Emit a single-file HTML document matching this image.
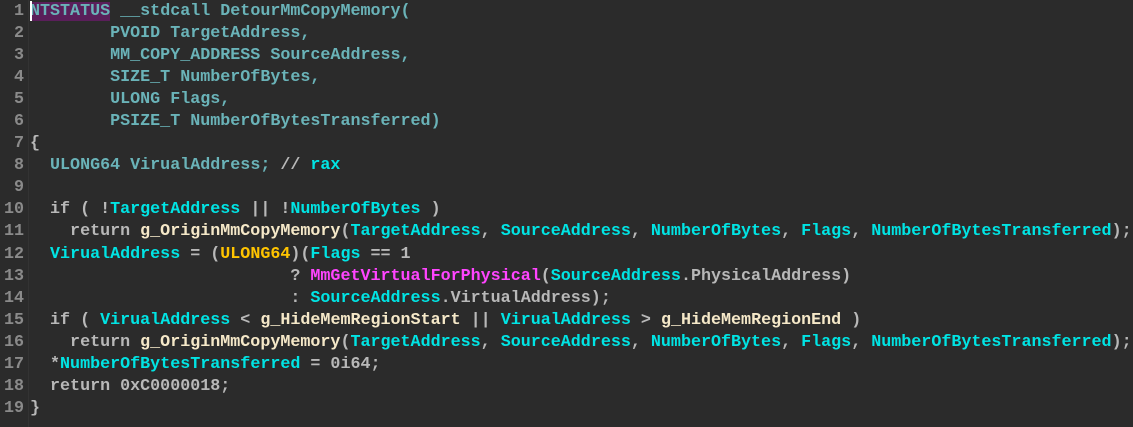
<!DOCTYPE html>
<html><head><meta charset="utf-8"><style>
html,body{margin:0;padding:0;background:#2b2b2b;width:1133px;height:427px;overflow:hidden}
.g{position:absolute;left:0;top:1px;width:24px;text-align:right;color:#8a8a8a;font:bold 16.7px/22.05px "Liberation Mono",monospace}
.sep{position:absolute;left:28px;top:0;width:1px;height:427px;background:#333}
.c{position:absolute;left:30px;top:1px;color:#b8b8b8;font:bold 16.7px/22.05px "Liberation Mono",monospace;white-space:pre}
.t{color:#6ab3b8}.i{color:#00e4e4}.y{color:#ffc400}.m{color:#ff44ff}.b{color:#f5e8c8}
.h{background:#5a1f5a}
.cur{position:absolute;left:30px;top:1px;width:2px;height:20px;background:#fff}
</style></head><body>
<div class="g">1<br>2<br>3<br>4<br>5<br>6<br>7<br>8<br>9<br>10<br>11<br>12<br>13<br>14<br>15<br>16<br>17<br>18<br>19</div>
<div class="sep"></div>
<div class="c"><span class="t"><span class="h">NTSTATUS</span> __stdcall DetourMmCopyMemory(</span>
<span class="t">        PVOID TargetAddress,</span>
<span class="t">        MM_COPY_ADDRESS SourceAddress,</span>
<span class="t">        SIZE_T NumberOfBytes,</span>
<span class="t">        ULONG Flags,</span>
<span class="t">        PSIZE_T NumberOfBytesTransferred)</span>
{
  <span class="t">ULONG64 VirualAddress;</span> // <span class="i">rax</span>

  if ( !<span class="i">TargetAddress</span> || !<span class="i">NumberOfBytes</span> )
    return <span class="b">g_OriginMmCopyMemory</span>(<span class="i">TargetAddress</span>, <span class="i">SourceAddress</span>, <span class="i">NumberOfBytes</span>, <span class="i">Flags</span>, <span class="i">NumberOfBytesTransferred</span>);
  <span class="i">VirualAddress</span> = (<span class="y">ULONG64</span>)(<span class="i">Flags</span> == 1
                          ? <span class="m">MmGetVirtualForPhysical</span>(<span class="i">SourceAddress</span>.PhysicalAddress)
                          : <span class="i">SourceAddress</span>.VirtualAddress);
  if ( <span class="i">VirualAddress</span> &lt; <span class="b">g_HideMemRegionStart</span> || <span class="i">VirualAddress</span> &gt; <span class="b">g_HideMemRegionEnd</span> )
    return <span class="b">g_OriginMmCopyMemory</span>(<span class="i">TargetAddress</span>, <span class="i">SourceAddress</span>, <span class="i">NumberOfBytes</span>, <span class="i">Flags</span>, <span class="i">NumberOfBytesTransferred</span>);
  *<span class="i">NumberOfBytesTransferred</span> = 0i64;
  return 0xC0000018;
}</div>
<div class="cur"></div>
</body></html>
